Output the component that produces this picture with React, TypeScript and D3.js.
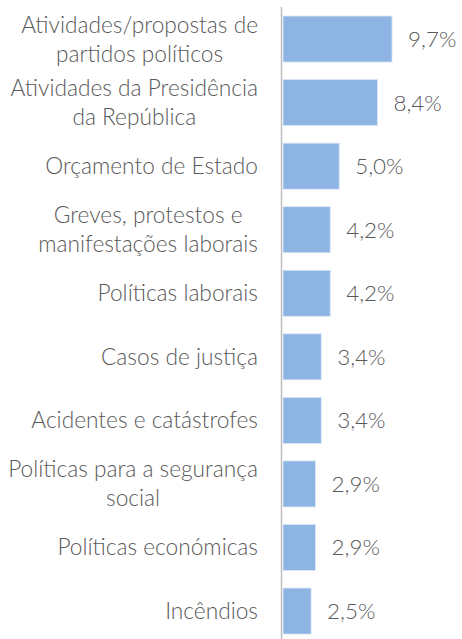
import React, { useRef, useEffect } from 'react';
import * as d3 from 'd3';

// categories (label lines) and shares in %
const labels: string[][] = [
  ['Atividades/propostas de', 'partidos políticos'],
  ['Atividades da Presidência', 'da República'],
  ['Orçamento de Estado'],
  ['Greves, protestos e', 'manifestações laborais'],
  ['Políticas laborais'],
  ['Casos de justiça'],
  ['Acidentes e catástrofes'],
  ['Políticas para a segurança', 'social'],
  ['Políticas económicas'],
  ['Incêndios'],
];
const values: number[] = [9.7, 8.4, 5.0, 4.2, 4.2, 3.4, 3.4, 2.9, 2.9, 2.5];

const width = 462;
const height = 639;
const FONT = 'Lato, "Open Sans", sans-serif';
const TEXT = '#595959';
const BAR = '#8EB4E3';

const App = () => {
  const svgRef = useRef<SVGSVGElement | null>(null);

  useEffect(() => {
    if (!svgRef.current) return;
    const svg = d3.select(svgRef.current);
    svg.selectAll('*').remove();

    const keys = labels.map((_, i) => String(i));
    const data = keys.map((k, i) => ({ key: k, lines: labels[i], value: values[i] }));

    const x = d3.scaleLinear().domain([0, 10]).range([283, 395.4]);
    const y = d3.scaleBand().domain(keys).range([-1.5, 651.6]).padding(0.276);

    // bars
    svg.append('g')
      .selectAll('rect')
      .data(data)
      .enter()
      .append('rect')
      .attr('x', x(0))
      .attr('y', d => y(d.key)!)
      .attr('width', d => x(d.value) - x(0))
      .attr('height', y.bandwidth())
      .attr('fill', BAR)
      .attr('stroke', '#dbe6f5')
      .attr('stroke-width', 0.8);

    // axis line
    svg.append('line')
      .attr('x1', x(0) - 1.5)
      .attr('x2', x(0) - 1.5)
      .attr('y1', 7)
      .attr('y2', height)
      .attr('stroke', '#BFBFBF')
      .attr('stroke-width', 1.5);

    // value labels
    svg.append('g')
      .selectAll('text')
      .data(data)
      .enter()
      .append('text')
      .attr('x', d => x(d.value) + 16)
      .attr('y', d => y(d.key)! + y.bandwidth() / 2 + 8)
      .attr('font-family', FONT)
      .attr('font-weight', 300)
      .attr('font-size', 22.4)
      .attr('fill', TEXT)
      .text(d => d.value.toFixed(1).replace('.', ',') + '%');

    // category labels: lines centred on each other, block right-aligned
    const lineH = 29;
    const labelRight = 258;
    data.forEach(d => {
      const cy = y(d.key)! + y.bandwidth() / 2;
      const g = svg.append('g');
      const texts = d.lines.map((ln, j) =>
        g.append('text')
          .attr('y', cy + 8 + (j - (d.lines.length - 1) / 2) * lineH)
          .attr('font-family', FONT)
          .attr('font-weight', 300)
          .attr('font-size', 22.7)
          .attr('fill', TEXT)
          .attr('text-anchor', 'middle')
          .text(ln)
      );
      const widths = texts.map(t => (t.node() as SVGTextElement).getComputedTextLength());
      const w = Math.max(...widths);
      texts.forEach(t => t.attr('x', labelRight - w / 2));
    });
  }, []);

  return (
    <svg
      ref={svgRef}
      width={width}
      height={height}
      style={{ position: 'absolute', left: 0, top: 0, background: '#fff' }}
    />
  );
};

export default App;
